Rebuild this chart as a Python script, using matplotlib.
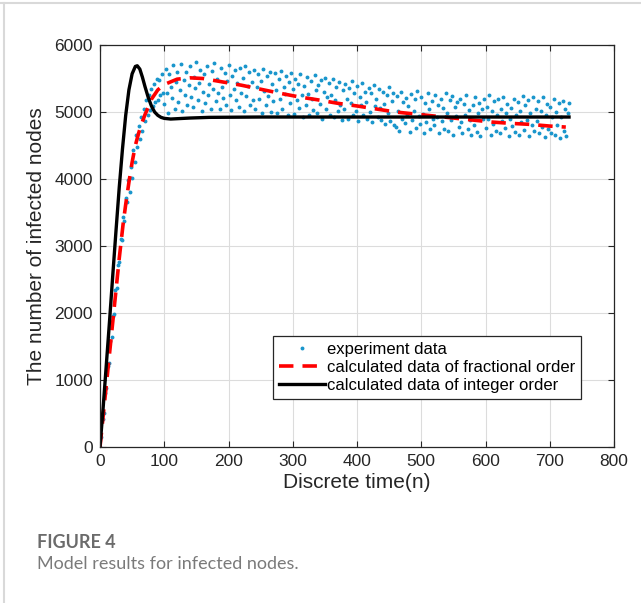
import numpy as np
import matplotlib
matplotlib.use("Agg")
import matplotlib.pyplot as plt
from matplotlib.lines import Line2D

plt.rcParams['font.family'] = ['Liberation Sans', 'DejaVu Sans']

# experiment data, one point every 2 steps (t = 0, 2, ..., 730)
t_exp = np.arange(0, 731, 2)
y_exp = [
    0, 150, 420, 510, 800, 880, 1210, 1260, 1580, 1640,
    1950, 1990, 2340, 2380, 2720, 2760, 3100, 3090, 3430, 3380,
    3720, 3650, 3990, 3810, 4180, 4020, 4430, 4260, 4650, 4480,
    4790, 4600, 4930, 4720, 5050, 4870, 5180, 4960, 5260, 5030,
    5340, 5090, 5420, 5150, 5500, 5180, 5480, 5250, 5560, 5290,
    5120, 5640, 5290, 4980, 5560, 5380, 5210, 5700, 5050, 5450,
    5600, 5150, 5330, 5720, 5020, 5480, 5260, 5590, 5110, 5400,
    5680, 5230, 5070, 5520, 5360, 5750, 5180, 5440, 5620, 5010,
    5300, 5570, 5140, 5690, 5250, 5420, 5050, 5610, 5340, 5730,
    5160, 5500, 5290, 5040, 5660, 5380, 5210, 5580, 5110, 5470,
    5700, 5260, 5030, 5540, 5350, 5620, 5180, 5430, 5080, 5650,
    5290, 5510, 5020, 5680, 5240, 5390, 5600, 5110, 5450, 5180,
    5620, 5050, 5380, 5560, 5200, 5470, 4990, 5640, 5310, 5100,
    5530, 5240, 5600, 5000, 5420, 5160, 5580, 5330, 4980, 5490,
    5200, 5610, 5050, 5380, 5270, 5540, 4960, 5450, 5130, 5580,
    5340, 4970, 5500, 5180, 5420, 5060, 5560, 5250, 4920, 5390,
    5110, 5520, 5270, 4950, 5460, 5200, 5030, 5550, 5330, 4990,
    5400, 5120, 5480, 4900, 5300, 5510, 5040, 5230, 5440, 4960,
    5260, 5490, 4930, 5180, 5380, 5010, 5450, 5110, 4880, 5330,
    5050, 5420, 5200, 4900, 5360, 5130, 5470, 4950, 5280, 5020,
    5390, 4870, 5230, 5100, 5440, 4960, 5300, 5150, 4900, 5360,
    5000, 5280, 4850, 5410, 5090, 5200, 4930, 5350, 5060, 4880,
    5300, 5120, 4820, 5250, 4990, 5380, 4870, 5160, 5290, 4800,
    4780, 5240, 5010, 4720, 5300, 4900, 5150, 4830, 5210, 4950,
    5090, 4700, 5270, 4880, 5020, 5190, 4760, 5310, 4940, 4820,
    5220, 4970, 4690, 5130, 4850, 5280, 5040, 4750, 5170, 4900,
    4800, 5250, 4930, 5100, 4680, 5200, 4870, 5060, 4740, 5290,
    4990, 4720, 5180, 4880, 5240, 4650, 5070, 4940, 5150, 4780,
    5200, 4850, 4690, 5120, 4960, 5260, 4750, 5030, 4880, 4660,
    5110, 4800, 5230, 4700, 4990, 5140, 4640, 5050, 4900, 5200,
    4760, 5080, 4890, 5250, 4650, 5010, 4820, 5170, 4720, 4950,
    5190, 4680, 5040, 4870, 5230, 4760, 4980, 5120, 4640, 4900,
    5060, 4790, 5200, 4700, 4950, 5150, 4660, 5020, 4850, 5240,
    4730, 5100, 4880, 5180, 4640, 4990, 4800, 5220, 4710, 5050,
    4870, 5160, 4680, 5010, 4780, 5230, 4620, 4960, 5120, 4740,
    5080, 4690, 4930, 5190, 4650, 5000, 4800, 5140, 4610, 4920,
    5170, 4720, 5050, 4640, 4980, 5130,
]

# fractional order model
t_frac = [0, 10, 20, 30, 36, 40, 45, 50, 55, 60, 65, 70, 75, 80, 90, 100,
          120, 140, 160, 190, 220, 250, 280, 310, 340, 370, 400, 430, 460,
          490, 520, 550, 580, 610, 640, 670, 700, 725]
y_frac = [0, 940, 1880, 2820, 3330, 3620, 3950, 4250, 4500, 4680, 4830,
          4960, 5070, 5190, 5330, 5410, 5490, 5510, 5500, 5450, 5400, 5340,
          5280, 5225, 5180, 5130, 5090, 5045, 5000, 4970, 4940, 4910, 4880,
          4850, 4830, 4815, 4790, 4775]

# integer order model
t_int = [0, 5, 10, 15, 20, 25, 30, 35, 40, 45, 50, 55, 58, 62, 66, 70, 75,
         80, 85, 90, 95, 100, 110, 120, 140, 170, 250, 730]
y_int = [0, 600, 1250, 1900, 2580, 3240, 3880, 4450, 4950, 5330, 5570, 5680,
         5690, 5640, 5520, 5380, 5220, 5090, 5000, 4950, 4920, 4905, 4895,
         4900, 4910, 4920, 4925, 4925]

W, H = 641, 603
fig = plt.figure(figsize=(W / 100, H / 100), dpi=100)

# card border (top and left)
fig.add_artist(Line2D([0, 1], [1 - 2.5 / H, 1 - 2.5 / H], color='#d9d9d9', lw=1.5))
fig.add_artist(Line2D([3.5 / W, 3.5 / W], [0, 1 - 2.5 / H], color='#d9d9d9', lw=1.5))

ax = fig.add_axes([100 / W, 1 - 447 / H, 514 / W, 402 / H])

ax.plot(t_exp, y_exp, '.', color='#1a96cc', markersize=3.6, label='experiment data')
ax.plot(t_frac, y_frac, '--', color='#ff0000', lw=2.6, dashes=(4, 2.5),
        label='calculated data of fractional order')
ax.plot(t_int, y_int, '-', color='black', lw=2.4, label='calculated data of integer order')

ax.set_xlim(0, 800)
ax.set_ylim(0, 6000)
ax.set_xticks(range(0, 801, 100))
ax.set_yticks(range(0, 6001, 1000))
ax.grid(True, color='#dcdcdc', lw=0.8)
ax.set_axisbelow(True)
ax.tick_params(direction='in', top=True, right=True, labelsize=12.5, length=4,
               color='#262626', labelcolor='#262626', pad=5)
for s in ax.spines.values():
    s.set_color('#262626')
    s.set_linewidth(0.9)

ax.set_xlabel('Discrete time(n)', fontsize=15, color='#262626', labelpad=3)
ax.set_ylabel('The number of infected nodes', fontsize=15, color='#262626', labelpad=6)

leg = ax.legend(loc='lower right', bbox_to_anchor=(0.936, 0.119), borderaxespad=0,
                fontsize=12, handlelength=2.8, handletextpad=0.1, labelspacing=0.2,
                borderpad=0.35, fancybox=False, framealpha=1, markerscale=1.0)
leg.get_frame().set_edgecolor('#262626')
leg.get_frame().set_linewidth(0.9)

fig.text(37 / W, 1 - 543 / H, 'FIGURE 4', fontsize=13, fontweight='bold',
         color='#6b6b6b', family=['Lato', 'DejaVu Sans'], va='center')
fig.text(37 / W, 1 - 564 / H, 'Model results for infected nodes.', fontsize=13,
         color='#7a7a7a', family=['Lato', 'DejaVu Sans'], va='center')

fig.savefig('out.png', dpi=100)
